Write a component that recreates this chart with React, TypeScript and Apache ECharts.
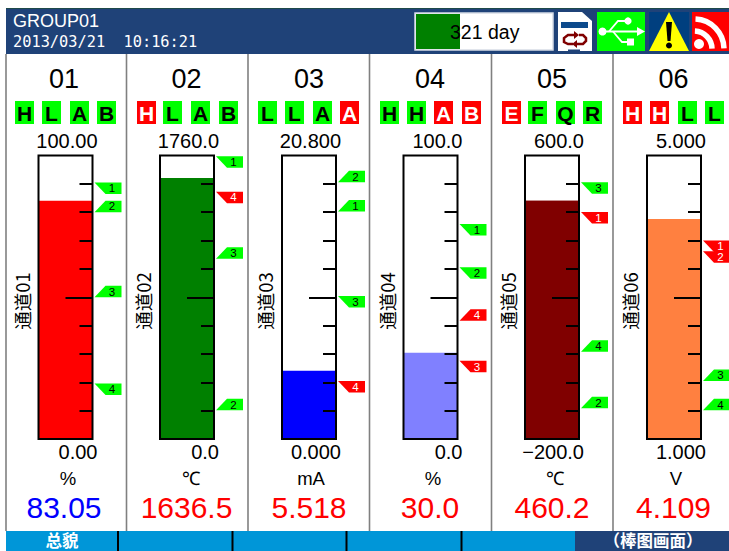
import React, { useEffect, useRef } from "react";
import * as echarts from "echarts";

const W = 729;
const H = 551;
const SANS = "'Liberation Sans', Arial, sans-serif";
const CJK = "'Noto Sans CJK SC', sans-serif";

// ---- data ----
const channelIds = ["01", "02", "03", "04", "05", "06"];
const channelNames = ["通道01", "通道02", "通道03", "通道04", "通道05", "通道06"];
const scaleMin = [0, 0, 0, 0, -200, 1];
const scaleMax = [100, 1760, 20.8, 100, 600, 5];
const scaleMinLabels = ["0.00", "0.0", "0.000", "0.0", "−200.0", "1.000"];
const scaleMaxLabels = ["100.00", "1760.0", "20.800", "100.0", "600.0", "5.000"];
const units = ["%", "℃", "mA", "%", "℃", "V"];
const readings = ["83.05", "1636.5", "5.518", "30.0", "460.2", "4.109"];
const readingColors = ["#0000ff", "#ff0000", "#ff0000", "#ff0000", "#ff0000", "#ff0000"];
const barLevels = [84, 1620, 5.0, 30.4, 472.5, 4.104];
const barColors = ["#ff0000", "#008000", "#0000ff", "#8080ff", "#800000", "#ff8040"];

const tagLetters = ["HLAB", "HLAB", "LLAA", "HHAB", "EFQR", "HHLL"];
const tagAlarms = ["0000", "1000", "0001", "0011", "1000", "1100"];

// alarm flags: [flag number, value, points down from value (1) or up to value (0), in alarm (1)]
const alarms01 = [[1, 90.5, 1, 0], [2, 80, 0, 0], [3, 50, 0, 0], [4, 19.6, 1, 0]];
const alarms02 = [[1, 1755, 1, 0], [2, 178, 0, 0], [3, 1119, 0, 0], [4, 1535, 1, 1]];
const alarms03 = [[1, 16.7, 0, 0], [2, 18.83, 0, 0], [3, 10.49, 1, 0], [4, 4.25, 1, 1]];
const alarms04 = [[1, 75.8, 1, 0], [2, 60.6, 1, 0], [3, 27.6, 1, 1], [4, 41.7, 0, 1]];
const alarms05 = [[1, 440.6, 1, 1], [2, -113.4, 0, 0], [3, 524.4, 1, 0], [4, 46.3, 0, 0]];
const alarms06 = [[1, 3.8, 1, 1], [2, 3.65, 1, 1], [3, 1.82, 0, 0], [4, 1.405, 0, 0]];
const allAlarms = [alarms01, alarms02, alarms03, alarms04, alarms05, alarms06];

// ---- layout ----
const barLeft = [38.5, 160, 282, 403.5, 525, 647];
const barWidth = 54;
const plotTop = 155.5;
const plotHeight = 283.5;
const dividers = [6, 126.5, 248, 369.5, 491.5, 613];
const titleX = [64, 186.5, 309, 430, 552, 673.5];
const unitX = [68, 191, 311, 433, 555, 676];
const nameX = [21.5, 143, 265, 387, 508, 630];
const tagX = [
  [15, 42, 70, 97],
  [137, 163, 191, 219],
  [258, 285, 313, 340],
  [380, 407, 434, 462],
  [502, 528, 556, 583],
  [623, 650, 678, 705],
];
const toolbarSeps = [118, 232.5, 346.5, 461.5];

function label(text: string, x: number, y: number, size: number, fill: string, align = "center", font = SANS, weight: any = "normal") {
  return {
    type: "text",
    x,
    y,
    z: 20,
    style: { text, fill, font: `${weight} ${size}px ${font}`, align, verticalAlign: "middle" },
  };
}

function chromeElements(): any[] {
  const navy = "#1f4278";
  const els: any[] = [];
  els.push({ type: "rect", z: 1, shape: { x: 6, y: 8, width: W - 6, height: 46 }, style: { fill: navy } });
  els.push({ type: "line", z: 1, shape: { x1: 6, y1: 8.5, x2: W, y2: 8.5 }, style: { stroke: "#1f4a4a", lineWidth: 1 } });
  els.push(label("GROUP01", 13, 21, 18, "#ffffff", "left"));
  els.push(label("2013/03/21  10:16:21", 13, 42, 15.3, "#ffffff", "left", "'DejaVu Sans Mono', monospace"));

  // day counter
  els.push({ type: "rect", z: 2, shape: { x: 415, y: 13, width: 138, height: 37 }, style: { fill: "#ffffff", stroke: "#d8dde6", lineWidth: 1.5 } });
  els.push({ type: "rect", z: 3, shape: { x: 416, y: 14, width: 44, height: 35 }, style: { fill: "#008000" } });
  els.push(label("321 day", 450, 31.5, 19.5, "#000000", "left"));

  // SD card icon
  els.push({ type: "polygon", z: 2, shape: { points: [[558, 12], [582, 12], [592, 21], [592, 51], [558, 51]] }, style: { fill: "#ffffff" } });
  els.push({ type: "rect", z: 3, shape: { x: 561, y: 22, width: 27, height: 6 }, style: { fill: "#0c4a8c" } });
  els.push({ type: "rect", z: 3, shape: { x: 568, y: 49.5, width: 12, height: 1.5 }, style: { fill: navy } });
  const dr = "#800000";
  els.push({ type: "polyline", z: 3, shape: { points: [[575, 35], [568, 35], [564, 38], [564, 42], [568, 44], [573, 44]] }, style: { stroke: dr, lineWidth: 2.5, fill: "none" } });
  els.push({ type: "polygon", z: 3, shape: { points: [[574, 31], [574, 39], [579, 35]] }, style: { fill: dr } });
  els.push({ type: "polyline", z: 3, shape: { points: [[577, 44], [583, 44], [586, 41], [586, 38], [583, 35], [579, 35]] }, style: { stroke: dr, lineWidth: 2.5, fill: "none" } });
  els.push({ type: "polygon", z: 3, shape: { points: [[577, 40], [577, 48], [572, 44]] }, style: { fill: dr } });

  // USB icon
  els.push({ type: "rect", z: 2, shape: { x: 597, y: 12, width: 48, height: 39 }, style: { fill: "#00ff00" } });
  els.push({ type: "circle", z: 3, shape: { cx: 602.5, cy: 31.5, r: 4 }, style: { fill: "#ffffff" } });
  els.push({ type: "line", z: 3, shape: { x1: 602, y1: 31.5, x2: 639, y2: 31.5 }, style: { stroke: "#ffffff", lineWidth: 1.8 } });
  els.push({ type: "polygon", z: 3, shape: { points: [[637, 27], [645, 31.5], [637, 36]] }, style: { fill: "#ffffff" } });
  els.push({ type: "polyline", z: 3, shape: { points: [[609, 31.5], [618, 21], [626, 21]] }, style: { stroke: "#ffffff", lineWidth: 1.8, fill: "none" } });
  els.push({ type: "circle", z: 3, shape: { cx: 628, cy: 21, r: 3.6 }, style: { fill: "#ffffff" } });
  els.push({ type: "polyline", z: 3, shape: { points: [[613, 31.5], [622, 42], [628, 42]] }, style: { stroke: "#ffffff", lineWidth: 1.8, fill: "none" } });
  els.push({ type: "rect", z: 3, shape: { x: 627, y: 38.5, width: 7, height: 7 }, style: { fill: "#ffffff" } });

  // warning icon
  els.push({ type: "rect", z: 2, shape: { x: 649, y: 12, width: 40, height: 39 }, style: { fill: "#003f7f" } });
  els.push({ type: "polygon", z: 3, shape: { points: [[669, 12], [689, 51], [649, 51]] }, style: { fill: "#ffff00" } });
  els.push({ type: "polygon", z: 4, shape: { points: [[666, 22], [672, 22], [670.5, 41], [667.5, 41]] }, style: { fill: "#000000" } });
  els.push({ type: "circle", z: 4, shape: { cx: 669, cy: 45.5, r: 3 }, style: { fill: "#000000" } });

  // RSS icon
  els.push({ type: "rect", z: 2, shape: { x: 692, y: 12, width: 37, height: 39 }, style: { fill: "#ff0000" } });
  els.push({ type: "circle", z: 3, shape: { cx: 699, cy: 44, r: 5 }, style: { fill: "#ffffff" } });
  els.push({ type: "arc", z: 3, shape: { cx: 694, cy: 49, r: 18, startAngle: -Math.PI / 2 + 0.05, endAngle: -0.02 }, style: { stroke: "#ffffff", lineWidth: 5.5, fill: "none" } });
  els.push({ type: "arc", z: 3, shape: { cx: 694, cy: 49, r: 30, startAngle: -Math.PI / 2 + 0.05, endAngle: -0.02 }, style: { stroke: "#ffffff", lineWidth: 5.5, fill: "none" } });

  // panel dividers
  dividers.forEach((x) => {
    els.push({ type: "line", z: 1, shape: { x1: x, y1: 54, x2: x, y2: 531 }, style: { stroke: "#808080", lineWidth: 1.6 } });
  });

  // bottom toolbar
  els.push({ type: "rect", z: 1, shape: { x: 6, y: 531, width: W - 6, height: 20 }, style: { fill: "#0096d8" } });
  els.push({ type: "rect", z: 2, shape: { x: 575, y: 531, width: W - 575, height: 20 }, style: { fill: navy } });
  toolbarSeps.forEach((x) => {
    els.push({ type: "line", z: 3, shape: { x1: x, y1: 531, x2: x, y2: H }, style: { stroke: "#000000", lineWidth: 2 } });
  });
  els.push(label("总貌", 62, 540, 16.5, "#ffffff", "center", CJK, "bold"));
  els.push(label("（棒图画面）", 653, 540, 16.5, "#ffffff", "center", CJK, "bold"));

  // per-channel texts and alarm tags
  channelIds.forEach((id, i) => {
    const right = barLeft[i] + barWidth + 5;
    els.push(label(id, titleX[i], 79, 27, "#000000"));
    els.push(label(scaleMaxLabels[i], right, 141, 20, "#000000", "right"));
    els.push(label(scaleMinLabels[i], right, 452, 20, "#000000", "right"));
    els.push(label(units[i], unitX[i], 478, 18.5, "#000000"));
    els.push(label(readings[i], titleX[i], 507, 30, readingColors[i]));
    els.push({
      type: "text",
      x: nameX[i],
      y: 301,
      rotation: Math.PI / 2,
      z: 20,
      style: { text: channelNames[i], fill: "#000000", font: `normal 18.5px ${CJK}`, align: "center", verticalAlign: "middle" },
    });
    tagLetters[i].split("").forEach((ch, k) => {
      const on = tagAlarms[i][k] === "1";
      els.push({ type: "rect", z: 2, shape: { x: tagX[i][k], y: 101, width: 19, height: 23 }, style: { fill: on ? "#ff0000" : "#00ff00" } });
      els.push(label(ch, tagX[i][k] + 9.5, 113, 21, on ? "#ffffff" : "#000000", "center", SANS, "bold"));
    });
  });
  return els;
}

function flagRenderer(params: any, api: any) {
  const sys = params.coordSys;
  const y = api.coord([0, api.value(2)])[1];
  const num = api.value(1);
  const hangs = api.value(3) === 1;
  const inAlarm = api.value(4) === 1;
  const x0 = sys.x + sys.width + 2;
  const x1 = x0 + 11;
  const x2 = x0 + 27;
  const h = 11.5;
  const points = hangs
    ? [[x0, y], [x2, y], [x2, y + h], [x1, y + h]]
    : [[x0, y], [x1, y - h], [x2, y - h], [x2, y]];
  return {
    type: "group",
    children: [
      { type: "polygon", shape: { points }, style: { fill: inAlarm ? "#ff0000" : "#00ff00" } },
      {
        type: "text",
        x: x0 + 17.5,
        y: hangs ? y + h / 2 : y - h / 2,
        style: { text: String(num), fill: inAlarm ? "#ffffff" : "#000000", font: `11.5px ${SANS}`, align: "center", verticalAlign: "middle" },
      },
    ],
  };
}

// a bar series grows from zero; this fills from the foot of a scale that starts below zero up to the level
function columnRenderer(params: any, api: any) {
  const sys = params.coordSys;
  const foot = api.coord([0, api.value(1)])[1];
  const top = api.coord([0, api.value(2)])[1];
  return {
    type: "rect",
    shape: { x: sys.x, y: top, width: sys.width, height: foot - top },
    style: { fill: api.visual("color") },
  };
}

function buildOption(): any {
  const grid: any[] = [];
  const xAxis: any[] = [];
  const yAxis: any[] = [];
  const series: any[] = [];
  channelIds.forEach((id, i) => {
    const min = scaleMin[i];
    const max = scaleMax[i];
    const step = (max - min) / 10;
    const minor = [1, 2, 3, 4, 6, 7, 8, 9].map((k) => min + k * step);
    grid.push({
      left: barLeft[i],
      top: plotTop,
      width: barWidth,
      height: plotHeight,
      show: true,
      z: 5,
      backgroundColor: "transparent",
      borderColor: "#000000",
      borderWidth: 2,
    });
    xAxis.push({ type: "category", gridIndex: i, data: [id], show: false });
    const baseAxis = {
      type: "value",
      gridIndex: i,
      min,
      max,
      position: "right",
      z: 4,
      axisLine: { show: false },
      axisLabel: { show: false },
      splitLine: { show: false },
    };
    yAxis.push({ ...baseAxis, axisTick: { show: true, inside: true, length: 13, customValues: minor, lineStyle: { color: "#000000", width: 2 } } });
    yAxis.push({ ...baseAxis, axisTick: { show: true, inside: true, length: 27, customValues: [min + 5 * step], lineStyle: { color: "#000000", width: 2 } } });
    series.push({
      type: "bar",
      xAxisIndex: i,
      yAxisIndex: i * 2,
      data: [barLevels[i]],
      barWidth: "100%",
      itemStyle: { color: barColors[i] },
      silent: true,
    });
    if (min < 0) {
      series.push({
        type: "custom",
        xAxisIndex: i,
        yAxisIndex: i * 2,
        silent: true,
        z: 2,
        encode: { x: 0, y: [1, 2] },
        itemStyle: { color: barColors[i] },
        renderItem: columnRenderer,
        data: [[0, min, barLevels[i]]],
      });
    }
    series.push({
      type: "custom",
      xAxisIndex: i,
      yAxisIndex: i * 2,
      clip: false,
      z: 6,
      silent: true,
      encode: { x: 0, y: 2 },
      renderItem: flagRenderer,
      data: allAlarms[i].map((a) => [0, a[0], a[1], a[2], a[3]]),
    });
  });
  return {
    animation: false,
    backgroundColor: "#ffffff",
    grid,
    xAxis,
    yAxis,
    series,
    graphic: { elements: chromeElements() },
  };
}

export default function App() {
  const ref = useRef<HTMLDivElement>(null);
  useEffect(() => {
    const chart = echarts.init(ref.current as HTMLDivElement, undefined, { renderer: "svg" });
    chart.setOption(buildOption());
    return () => chart.dispose();
  }, []);
  return <div ref={ref} style={{ position: "absolute", left: 0, top: 0, width: W, height: H }} />;
}
